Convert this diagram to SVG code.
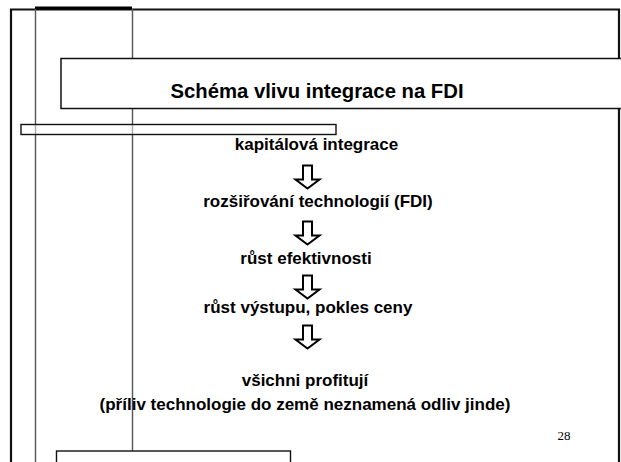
<svg xmlns="http://www.w3.org/2000/svg" width="621" height="462" viewBox="0 0 621 462">
<style>
.t{font-family:"Liberation Sans",Arial,sans-serif;font-weight:bold;font-size:17px;fill:#000;text-anchor:middle}
.ln{stroke:#555;stroke-width:1.4;fill:none}
.bx{stroke:#111;stroke-width:1.4;fill:none}
.ar{stroke:#000;stroke-width:2;fill:#fff;stroke-linejoin:miter}
</style>
<defs>
<path id="arrow" d="M-4.5,0 H4.5 V14 H12 L0,23 L-12,14 H-4.5 Z"/>
</defs>
<g id="frame">
<rect x="0" y="0" width="621" height="462" fill="#fff"/>
<path d="M11,462 V9.5 H619 V462" fill="none" stroke="#111" stroke-width="2.2"/>
<line x1="35" y1="8" x2="132" y2="8" stroke="#000" stroke-width="3"/>
<line class="ln" x1="35.5" y1="9" x2="35.5" y2="462"/>
<line class="ln" x1="132.5" y1="9" x2="132.5" y2="451"/>
</g>
<g id="title">
<rect x="61" y="58.5" width="562" height="50" fill="#fff" stroke="#111" stroke-width="1.5"/>
<text x="317" y="97.5" class="t" style="font-size:20.3px">Schéma vlivu integrace na FDI</text>
</g>
<g id="bar">
<rect class="bx" x="21" y="124.5" width="315" height="10" style="fill:#fff;fill-opacity:0.5"/>
</g>
<g id="bottombox">
<rect class="bx" x="56.5" y="451" width="234" height="20"/>
</g>
<g id="n1"><text class="t" x="316.5" y="150">kapitálová integrace</text></g>
<g id="n2"><text class="t" x="318" y="207">rozšiřování technologií (FDI)</text></g>
<g id="n3"><text class="t" x="306" y="264">růst efektivnosti</text></g>
<g id="n4"><text class="t" x="308" y="313">růst výstupu, pokles ceny</text></g>
<g id="n5">
<text class="t" x="305" y="386">všichni profitují</text>
<text class="t" x="305" y="410">(příliv technologie do země neznamená odliv jinde)</text>
</g>
<g id="connectors">
<use href="#arrow" class="ar" x="307.5" y="165.5"/>
<use href="#arrow" class="ar" x="307.5" y="221.5"/>
<use href="#arrow" class="ar" x="307.5" y="275.5"/>
<use href="#arrow" class="ar" x="307.5" y="325.5"/>
</g>
<g id="pagenum">
<text x="564" y="440" style="font-family:'Liberation Serif','Times New Roman',serif;font-size:13px;fill:#000;text-anchor:middle">28</text>
</g>
</svg>
